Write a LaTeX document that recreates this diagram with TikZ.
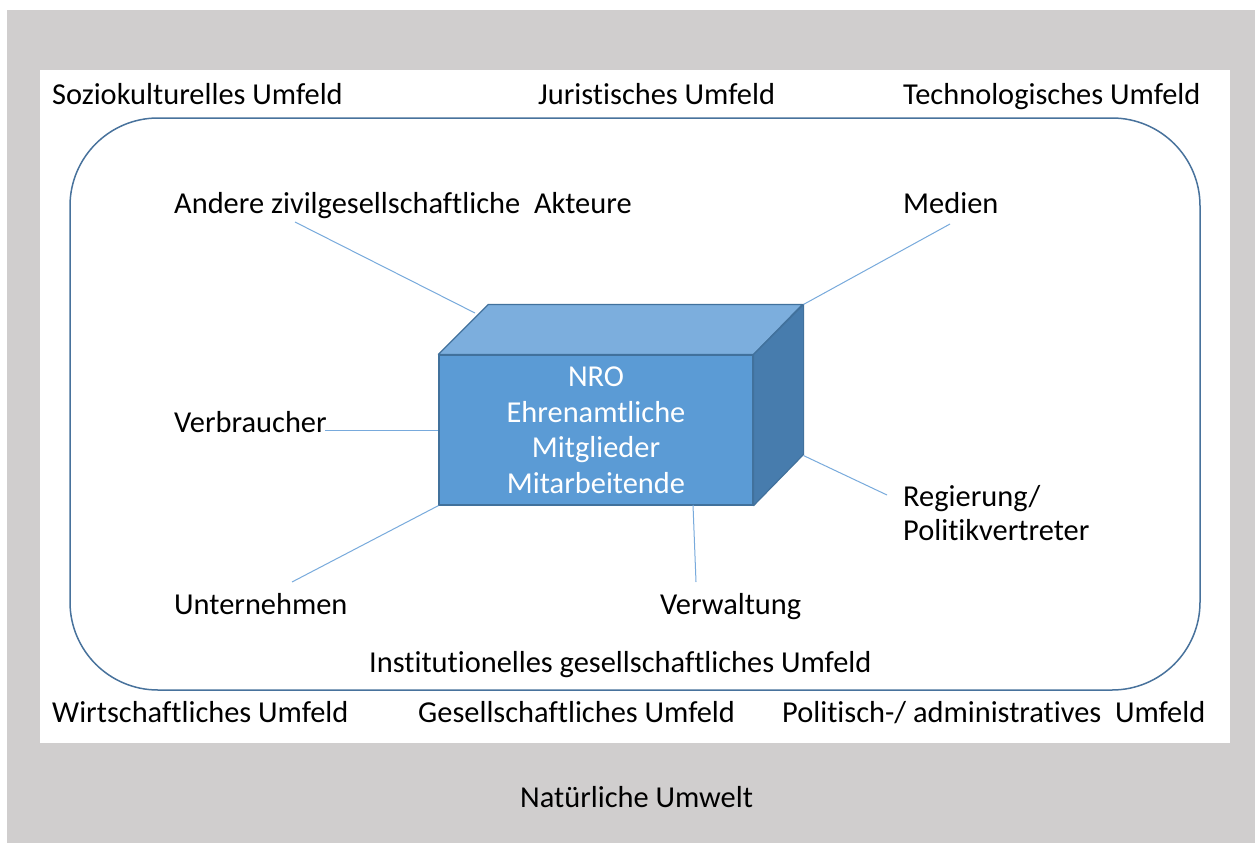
\documentclass[tikz,border=0pt]{standalone}
\usepackage{fontspec}
\setmainfont{Carlito}[Ligatures=NoCommon]
\usetikzlibrary{positioning}

\definecolor{umwelt}{RGB}{208,206,206}
\definecolor{rahmen}{RGB}{72,114,156}
\definecolor{front}{RGB}{91,155,213}
\definecolor{oben}{RGB}{124,174,221}
\definecolor{seite}{RGB}{71,124,173}
\definecolor{kante}{RGB}{65,113,156}
\definecolor{linie}{RGB}{120,170,220}

\begin{document}
\begin{tikzpicture}[
      x=1pt,y=-1pt,
      mytext/.style={
         anchor=base west,
         inner sep=0pt,
         font=\fontsize{30.4}{36}\selectfont},
      myline/.style={draw=linie,line width=1pt},
      mybox/.style={
         rectangle,
         draw=kante,
         line width=1.2pt,
         fill=front,
         text=white,
         align=center,
         minimum width=314pt,
         minimum height=150pt,
         font=\fontsize{30.4}{35.5}\selectfont}
      ]
      \useasboundingbox (0,0) rectangle (1255,843);
      \fill[white] (0,0) rectangle (1255,843);
      \fill[umwelt] (7,10) rectangle (1255,843);
      \fill[white] (40,70) rectangle (1230,743);
      \draw[rahmen,line width=1.5pt,rounded corners=88pt] (70,118) rectangle (1200,690);

      % Umfelder
      \node[mytext] (sozio) at (52,104) {Soziokulturelles Umfeld};
      \node[mytext] (jur) at (538,104) {Juristisches Umfeld};
      \node[mytext] (tech) at (903,104) {Technologisches Umfeld};
      \node[mytext] (wirt) at (52,722) {Wirtschaftliches Umfeld};
      \node[mytext] (ges) at (418,722) {Gesellschaftliches Umfeld};
      \node[mytext] (pol) at (782,722) {Politisch-/ administratives~~Umfeld};
      \node[mytext] (inst) at (369,672) {Institutionelles gesellschaftliches Umfeld};
      \node[mytext] (natur) at (520,807) {Natürliche Umwelt};

      % Akteure
      \node[mytext] (andere) at (174,213) {Andere zivilgesellschaftliche~~Akteure};
      \node[mytext] (medien) at (903,213) {Medien};
      \node[mytext] (verb) at (174,432) {Verbraucher};
      \node[mytext] (reg) at (903,506) {Regierung/};
      \node[mytext] (polv) at (903,540) {Politikvertreter};
      \node[mytext] (unt) at (174,614) {Unternehmen};
      \node[mytext] (verw) at (660,614) {Verwaltung};

      % NRO-Quader
      \node[mybox] (nro) at (596,430) {NRO\\Ehrenamtliche\\Mitglieder\\Mitarbeitende};
      \filldraw[fill=oben,draw=kante,line width=1.2pt,line join=round]
         (nro.north west) -- ++(50,-50) -- ++(314,0) -- (nro.north east) -- cycle;
      \filldraw[fill=seite,draw=kante,line width=1.2pt,line join=round]
         (nro.north east) -- ++(50,-50) -- ++(0,150) -- (nro.south east) -- cycle;

      \coordinate (a1) at (295,222);
      \coordinate (a2) at (475,313);
      \coordinate (m1) at (950,224);
      \coordinate (m2) at ([shift={(50,-50)}]nro.north east);
      \coordinate (r1) at (887,495);
      \coordinate (r2) at ([shift={(50,-50)}]nro.south east);
      \coordinate (u1) at (292,582);
      \coordinate (w1) at (696,582);
      \coordinate (w2) at (693,505);
      \coordinate (v1) at (325,430);
    \foreach \i/\j in {a1/a2, m1/m2, r1/r2, u1/nro.south west, w1/w2, v1/nro.west}
       \draw [myline] (\i) -- (\j);
\end{tikzpicture}
\end{document}
